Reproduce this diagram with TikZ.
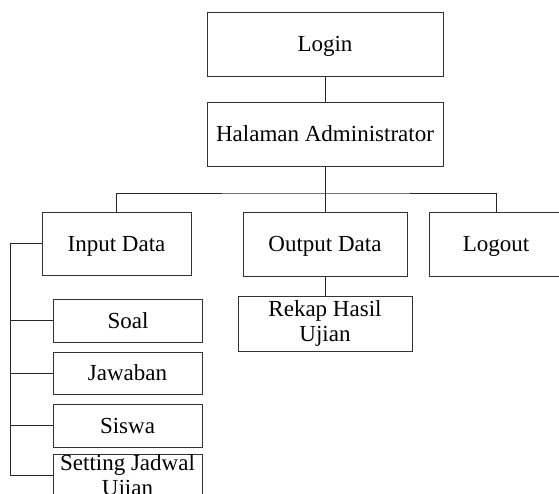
\documentclass[tikz,border=0pt]{standalone}
\usepackage{fontspec}
\setmainfont{Liberation Serif}
\begin{document}
\begin{tikzpicture}[x=1pt,y=-1pt,
  box/.style={draw=black!80, line width=0.9pt, inner sep=0pt, minimum width=#1},
  one/.style={text height=20pt, text depth=5pt},
  txt/.style={inner sep=0pt, align=center, font=\fontsize{23}{25}\selectfont},
  link/.style={draw=black!85, line width=0.9pt},
  every node/.style={font=\fontsize{23}{25}\selectfont}]
\useasboundingbox (0,0) rectangle (559,493);
\clip (0,0) rectangle (559,493);
% top
\node[box=236, minimum height=64, one] (login) at (325,44) {Login};
\node[box=236, minimum height=64, one] (admin) at (325,134) {Halaman Administrator};
% level 2
\node[box=149, minimum height=63, one] (input) at (116.5,243.5) {Input Data};
\node[box=164, minimum height=64, one] (output) at (325,244) {Output Data};
\node[box=134, minimum height=64, one] (logout) at (496,244) {Logout};
% children of output
\node[box=174, minimum height=55, align=center] (rekap) at (325,323.5) {Rekap Hasil\\Ujian};
% children of input
\node[box=149, minimum height=43, one] (soal) at (128,320.5) {Soal};
\node[box=149, minimum height=42, one] (jawaban) at (127.5,373) {Jawaban};
\node[box=149, minimum height=43, one] (siswa) at (127.5,425.5) {Siswa};
\node[box=149, minimum height=43] (setting) at (127.5,475.5) {};
\node[txt] (settingtxt) at (127.5,477.5) {Setting Jadwal\\Ujian};
% connectors
\coordinate (bus) at (325,193);
\coordinate (sp) at (10,0);
\draw[link] (login.south) -- (admin.north);
\draw[link] (admin.south) -- (bus);
\draw[link] (input.north) |- (bus) -| (logout.north);
\draw[link] (bus) -- (output.north);
\draw[link] (output.south) -- (rekap.north);
\draw[link] (input.west) -- (input.west -| sp) |- (setting.west);
\draw[link] (soal.west) -- (soal.west -| sp);
\draw[link] (jawaban.west) -- (jawaban.west -| sp);
\draw[link] (siswa.west) -- (siswa.west -| sp);
\end{tikzpicture}
\end{document}
